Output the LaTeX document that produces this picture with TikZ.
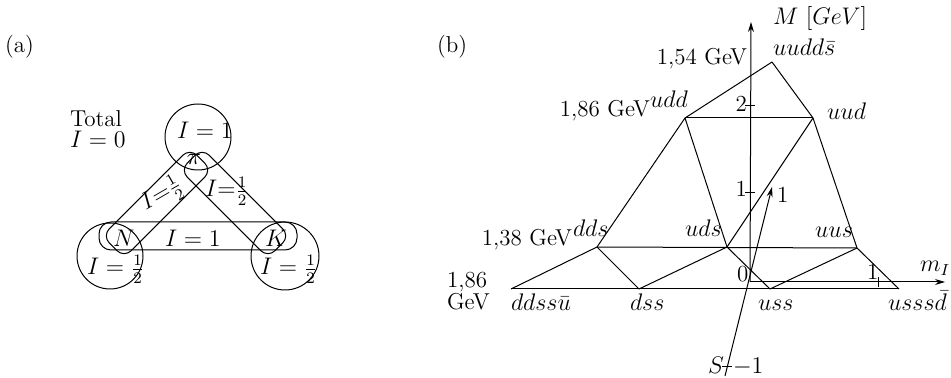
\documentclass[tikz,border=0pt]{standalone}
\usetikzlibrary{arrows.meta}
\begin{document}
\begin{tikzpicture}[x=0.5pt,y=-0.5pt, line width=0.5pt,
  every node/.style={font=\fontsize{11.5}{14}\selectfont, inner sep=0pt, outer sep=0pt},
  loopbox/.style={draw, rounded corners=5pt, inner sep=0pt},
  ring/.style={draw, circle, inner sep=0pt},
  axisarrow/.style={-{Stealth[length=5pt,width=3pt]}},
]
\useasboundingbox (0,0) rectangle (951,378);

% ---------------- panel (a) ----------------
\node[anchor=base west] (la) at (5,53) {(a)};
\node[anchor=base west] (tot) at (70,127) {Total};
\node[anchor=base west] (tot0) at (70,148) {$I=0$};

\node[ring, minimum size=33pt] (cpi) at (198,137) {};
\node[ring, minimum size=33pt] (cN) at (110,256) {};
\node[ring, minimum size=34pt] (cK) at (285,256) {};
\node[loopbox, minimum width=62pt, minimum height=15.5pt, rotate=45] (lpn) at (157,203) {};
\node[loopbox, minimum width=62pt, minimum height=15.5pt, rotate=-45] (lpk) at (235,203) {};
\node[loopbox, minimum width=99pt, minimum height=14pt, rounded corners=6pt] (lnk) at (198,236) {};

\node[anchor=base west] (tpi) at (177,139) {$I=1$};
\node (pi) at (194,159) {$\pi$};
\node[anchor=base west] (N) at (113,247) {$N$};
\node[anchor=base west] (K) at (265,247) {$K$};
\node[anchor=base west] (tN) at (87,275) {$I=\frac12$};
\node[anchor=base west] (tK) at (260,275) {$I=\frac12$};
\node[rotate=30] (tpn) at (162,195) {$I{=}\frac12$};
\node[anchor=base west] (tpk) at (205,197) {$I{=}\frac12$};
\node[anchor=base west] (tnk) at (165,247) {$I=1$};

% ---------------- panel (b) ----------------
\node[anchor=base west] (lb) at (437,53) {(b)};

\coordinate (T) at (772,62);
\coordinate (udd) at (685,118);
\coordinate (uud) at (813,118);
\coordinate (dds) at (597,247);
\coordinate (uds) at (727,247);
\coordinate (uus) at (857,248);
\coordinate (ddssu) at (511,289);
\coordinate (dss) at (639,289);
\coordinate (uss) at (770,289);
\coordinate (usssd) at (899,289);

\draw (T) -- (udd);
\draw (T) -- (uud);
\draw (udd) -- (uud);
\draw (udd) -- (dds);
\draw (udd) -- (uds);
\draw (uud) -- (uds);
\draw (uud) -- (uus);
\draw (dds) -- (uus);
\draw (dds) -- (ddssu);
\draw (dds) -- (dss);
\draw (uds) -- (dss);
\draw (uds) -- (uss);
\draw (uus) -- (uss);
\draw (uus) -- (usssd);
\draw (ddssu) -- (usssd);

% axes
\coordinate (O) at (750,282);
\coordinate (Mtop) at (751,22);
\coordinate (mend) at (945,282);
\coordinate (Stop) at (772,187);
\coordinate (Sbot) at (725,376);
\draw[axisarrow] (O) -- (Mtop);
\draw[axisarrow] (O) -- (mend);
\draw[axisarrow] (Sbot) -- (Stop);

% ticks
\coordinate (t2) at (750,106);
\coordinate (t1) at (750,193);
\coordinate (tm) at (878,282);
\coordinate (ts) at (727,367);
\draw ([xshift=-2.5pt]t2) -- ([xshift=2.5pt]t2);
\draw ([xshift=-2.5pt]t1) -- ([xshift=2.5pt]t1);
\draw ([yshift=-2.5pt]tm) -- ([yshift=2.5pt]tm);
\draw ([xshift=-2.5pt]ts) -- ([xshift=2.5pt]ts);

% labels
\node[anchor=base west] (Mlab) at (773,25) {$M\ [GeV]$};
\node[anchor=base east] (l154) at (747,65) {1,54 GeV};
\node[anchor=base west] (lT) at (773,56) {$uudd\bar s$};
\node[anchor=base east] (l186a) at (650,117) {1,86 GeV};
\node[anchor=base west] (ludd) at (650,108) {$udd$};
\node[anchor=base west] (luud) at (827,120) {$uud$};
\node[anchor=base east] (l2) at (747,112) {2};
\node[anchor=base east] (l1) at (747,197) {1};
\node[anchor=base east] (l138) at (572,246) {1,38 GeV};
\node[anchor=base west] (ldds) at (573,237) {$dds$};
\node[anchor=base west] (l186b) at (447,288) {1,86};
\node[anchor=base west] (lgev) at (447,310) {GeV};
\node[anchor=base west] (lddssu) at (511,311) {$ddss\bar u$};
\node[anchor=base west] (ldss) at (630,311) {$dss$};
\node[anchor=base west] (luds) at (685,237) {$uds$};
\node[anchor=base west] (luus) at (815,238) {$uus$};
\node[anchor=base west] (l0) at (737,282) {0};
\node[anchor=base west] (lS1) at (777,203) {1};
\node[anchor=base west] (lm1) at (867,280) {1};
\node[anchor=base west] (lmI) at (920,272) {$m_I$};
\node[anchor=base west] (luss) at (758,311) {$uss$};
\node[anchor=base west] (lusssd) at (888,311) {$usss\bar d$};
\node[anchor=base west] (lS) at (708,373) {$S$};
\node[anchor=base west] (lSm1) at (733,373) {$-1$};
\end{tikzpicture}
\end{document}
